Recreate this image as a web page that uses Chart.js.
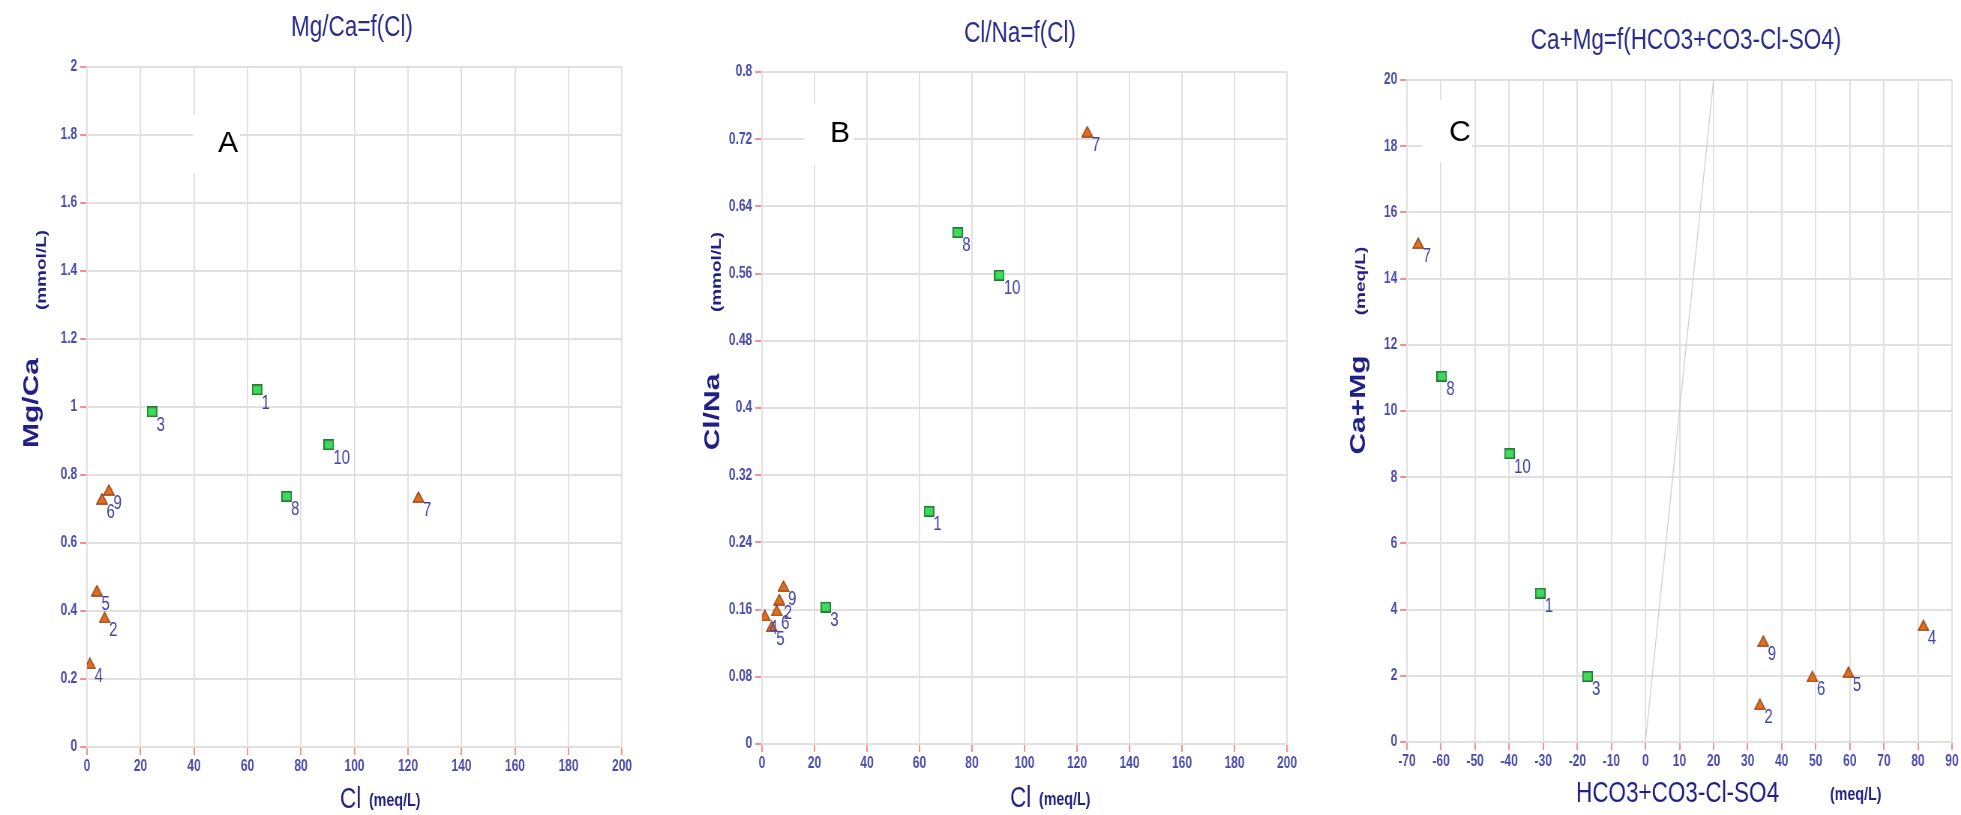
<!DOCTYPE html>
<html>
<head>
<meta charset="utf-8">
<title>Mg/Ca, Cl/Na, Ca+Mg plots</title>
<script src="https://cdn.jsdelivr.net/npm/chart.js@4.4.1/dist/chart.umd.min.js"></script>
<style>
    html, body { margin: 0; padding: 0; background: #fff; }
    body { width: 1961px; height: 815px; position: relative; overflow: hidden; }
    canvas { position: absolute; top: 0; }
</style>
</head>
<body>
<canvas id="chartA"></canvas>
<canvas id="chartB"></canvas>
<canvas id="chartC"></canvas>
<script>
// Samples (index = sample number - 1)
const sampleIds = [1, 2, 3, 4, 5, 6, 7, 8, 9, 10];
const sampleMarker = ['square', 'triangle', 'square', 'triangle', 'triangle', 'triangle', 'triangle', 'square', 'triangle', 'square'];

// Values
const clMeq = [63.6, 6.6, 24.3, 1.1, 3.7, 5.6, 123.9, 74.6, 8.2, 90.4];
const mgCa = [1.051, 0.381, 0.986, 0.246, 0.46, 0.73, 0.735, 0.737, 0.756, 0.889];
const clNa = [0.277, 0.172, 0.163, 0.153, 0.140, 0.159, 0.729, 0.609, 0.188, 0.558];
const hco3Co3ClSo4 = [-30.9, 33.6, -17.0, 81.6, 59.6, 49.0, -66.7, -59.8, 34.6, -39.9];
const caMg = [4.50, 1.14, 1.98, 3.52, 2.11, 1.98, 15.07, 11.05, 3.05, 8.71];

// 1:1 line on plot C
const refLineX = [0, 20];
const refLineY = [0, 20];

// Tick values
const clTicks = [0, 20, 40, 60, 80, 100, 120, 140, 160, 180, 200];
const mgCaTicks = [0, 0.2, 0.4, 0.6, 0.8, 1, 1.2, 1.4, 1.6, 1.8, 2];
const clNaTicks = [0, 0.08, 0.16, 0.24, 0.32, 0.4, 0.48, 0.56, 0.64, 0.72, 0.8];
const balanceTicks = [-70, -60, -50, -40, -30, -20, -10, 0, 10, 20, 30, 40, 50, 60, 70, 80, 90];
const caMgTicks = [0, 2, 4, 6, 8, 10, 12, 14, 16, 18, 20];

// The source figure is squashed horizontally, so each canvas is drawn wider and shrunk with css
const SQUEEZE = 0.75;
const PAGE_H = 815;
const Y_AXIS_W = 70;
const X_AXIS_H = 40;
const FONT = '"Liberation Sans", Arial, sans-serif';
const TITLE_COLOR = '#2a2a8c';
const AXIS_TITLE_COLOR = '#1f1f86';
const TICK_TEXT = '#4a4aac';
const LABEL_COLOR = '#4343a6';
const GRID = '#e0e0e0';
const TICK_RED = '#f26a6a';

// Marker images
function makeMarker(kind) {
    const c = document.createElement('canvas');
    if (kind === 'square') {
        c.width = 14; c.height = 11;
        const g = c.getContext('2d');
        g.fillStyle = '#3fd95c';
        g.strokeStyle = '#237a33';
        g.lineWidth = 1.6;
        g.fillRect(0.8, 0.8, 12.4, 9.4);
        g.strokeRect(0.8, 0.8, 12.4, 9.4);
    } else {
        c.width = 16; c.height = 12;
        const g = c.getContext('2d');
        g.beginPath();
        g.moveTo(8, 0.8);
        g.lineTo(15.2, 11.2);
        g.lineTo(0.8, 11.2);
        g.closePath();
        g.fillStyle = '#e0701e';
        g.strokeStyle = '#8c3d12';
        g.lineWidth = 1.3;
        g.fill();
        g.stroke();
    }
    return c;
}
const squareImg = makeMarker('square');
const triangleImg = makeMarker('triangle');

function scatterData(xs, ys) {
    const sq = [], tri = [];
    sampleIds.forEach((id, i) => {
        const p = { x: xs[i], y: ys[i], id: id };
        if (sampleMarker[i] === 'square') sq.push(p); else tri.push(p);
    });
    return [
        { label: 'Group 1', data: sq, pointStyle: squareImg, pointRadius: 5, sampleLabels: true },
        { label: 'Group 2', data: tri, pointStyle: triangleImg, pointRadius: 5, sampleLabels: true }
    ];
}

function linearAxis(ticks, horizontal) {
    return {
        type: 'linear',
        min: ticks[0],
        max: ticks[ticks.length - 1],
        afterBuildTicks: scale => { scale.ticks = ticks.map(v => ({ value: v })); },
        afterFit: scale => {
            if (horizontal) scale.height = X_AXIS_H; else scale.width = Y_AXIS_W;
        },
        grid: { color: GRID, lineWidth: 2, tickColor: TICK_RED, tickLength: horizontal ? 8 : 9, tickWidth: 1.5 },
        border: { color: GRID, width: 2 },
        ticks: {
            color: TICK_TEXT,
            font: { family: FONT, size: 16, weight: 'bold' },
            padding: horizontal ? 2 : 4,
            maxRotation: 0,
            autoSkip: false,
            callback: v => String(v)
        }
    };
}

// Titles, axis names, sample numbers and the panel letter
function panelText(p, ix, k) {
    return {
        id: 'panelText',
        beforeDatasetsDraw(chart) {
            const ctx = chart.ctx;
            const b = p.letterBox;
            ctx.save();
            ctx.fillStyle = '#fff';
            ctx.fillRect(ix(b[0]), b[1], b[2] * k, b[3]);
            ctx.translate(ix(p.letter[1]), p.letter[2]);
            ctx.scale(k, 1);
            ctx.fillStyle = '#000';
            ctx.font = '30px ' + FONT;
            ctx.textAlign = 'center';
            ctx.textBaseline = 'middle';
            ctx.fillText(p.letter[0], 0, 0);
            ctx.restore();
        },
        afterDatasetsDraw(chart) {
            const ctx = chart.ctx;
            ctx.save();

            // sample numbers
            ctx.font = '20px ' + FONT;
            ctx.fillStyle = LABEL_COLOR;
            ctx.textAlign = 'left';
            ctx.textBaseline = 'alphabetic';
            chart.data.datasets.forEach((ds, i) => {
                if (!ds.sampleLabels) return;
                chart.getDatasetMeta(i).data.forEach((el, j) => {
                    ctx.fillText(String(ds.data[j].id), el.x + 6, el.y + 19);
                });
            });

            // title
            ctx.textAlign = 'center';
            ctx.fillStyle = TITLE_COLOR;
            ctx.font = '30px ' + FONT;
            ctx.fillText(p.title[0], ix(p.title[1]), p.title[2]);

            // y axis name and unit
            ctx.fillStyle = AXIS_TITLE_COLOR;
            ctx.textBaseline = 'middle';
            [[p.yTitle, 'bold 30px '], [p.yUnit, 'bold 19px ']].forEach(([t, font]) => {
                ctx.save();
                ctx.translate(ix(t[1]), t[2]);
                ctx.rotate(-Math.PI / 2);
                ctx.font = font + FONT;
                ctx.fillText(t[0], 0, 0);
                ctx.restore();
            });

            // x axis name and unit
            ctx.textAlign = 'left';
            ctx.textBaseline = 'alphabetic';
            ctx.font = '30px ' + FONT;
            ctx.fillText(p.xTitle[0], ix(p.xTitle[1]), p.xTitle[2]);
            ctx.font = 'bold 19px ' + FONT;
            ctx.fillText(p.xUnit[0], ix(p.xUnit[1]), p.xUnit[2]);

            ctx.restore();
        }
    };
}

function buildPanel(p) {
    const canvas = document.getElementById(p.id);
    const w = Math.round(p.width / SQUEEZE);
    canvas.width = w;
    canvas.height = PAGE_H;
    canvas.style.left = p.left + 'px';
    canvas.style.width = p.width + 'px';
    canvas.style.height = PAGE_H + 'px';
    const k = w / p.width;
    const ix = x => (x - p.left) * k;

    new Chart(canvas, {
        type: 'scatter',
        data: { datasets: p.datasets },
        options: {
            responsive: false,
            animation: false,
            layout: {
                padding: {
                    left: ix(p.area[0]) - Y_AXIS_W,
                    right: w - ix(p.area[2]),
                    top: p.area[1],
                    bottom: PAGE_H - p.area[3] - X_AXIS_H
                }
            },
            scales: {
                x: linearAxis(p.xTicks, true),
                y: linearAxis(p.yTicks, false)
            },
            plugins: {
                legend: { display: false },
                tooltip: { enabled: false }
            }
        },
        plugins: [panelText(p, ix, k)]
    });
}

// Panel A
buildPanel({
    id: 'chartA', left: 0, width: 660, area: [87, 67, 622, 747],
    xTicks: clTicks, yTicks: mgCaTicks,
    datasets: scatterData(clMeq, mgCa),
    title: ['Mg/Ca=f(Cl)', 352, 36],
    yTitle: ['Mg/Ca', 32, 403], yUnit: ['(mmol/L)', 42, 270],
    xTitle: ['Cl', 340, 808], xUnit: ['(meq/L)', 369, 806],
    letter: ['A', 228, 144], letterBox: [193, 115, 47, 58]
});

// Panel B
buildPanel({
    id: 'chartB', left: 660, width: 660, area: [762, 72, 1287, 744],
    xTicks: clTicks, yTicks: clNaTicks,
    datasets: scatterData(clMeq, clNa),
    title: ['Cl/Na=f(Cl)', 1020, 42],
    yTitle: ['Cl/Na', 713, 412], yUnit: ['(mmol/L)', 717, 272],
    xTitle: ['Cl', 1010, 807], xUnit: ['(meq/L)', 1039, 805],
    letter: ['B', 840, 134], letterBox: [804, 103, 50, 62]
});

// Panel C
const refLine = {
    label: '1:1',
    data: refLineX.map((x, i) => ({ x: x, y: refLineY[i] })),
    showLine: true,
    borderColor: '#cfcfcf',
    borderWidth: 1.3,
    pointRadius: 0
};
buildPanel({
    id: 'chartC', left: 1320, width: 641, area: [1407, 80, 1952, 742],
    xTicks: balanceTicks, yTicks: caMgTicks,
    datasets: [refLine].concat(scatterData(hco3Co3ClSo4, caMg)),
    title: ['Ca+Mg=f(HCO3+CO3-Cl-SO4)', 1686, 49],
    yTitle: ['Ca+Mg', 1359, 405], yUnit: ['(meq/L)', 1361, 281],
    xTitle: ['HCO3+CO3-Cl-SO4', 1576, 802], xUnit: ['(meq/L)', 1830, 800],
    letter: ['C', 1460, 133], letterBox: [1422, 100, 50, 62]
});
</script>
</body>
</html>
